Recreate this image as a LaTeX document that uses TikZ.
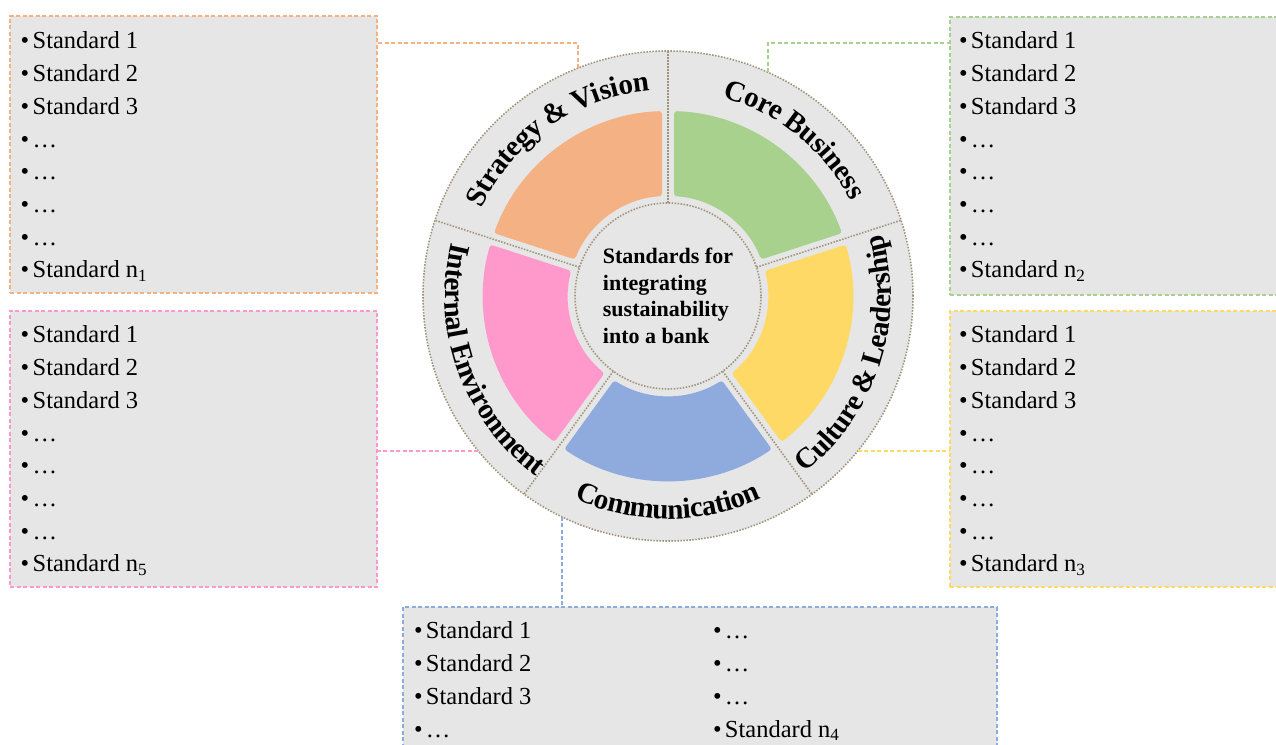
\nonstopmode
\documentclass[tikz,border=0pt]{standalone}
\usepackage{fontspec}
\setmainfont{Liberation Serif}
\usetikzlibrary{calc}
\definecolor{ringgray}{HTML}{E7E6E6}
\definecolor{dotc}{RGB}{158,148,122}
\definecolor{cOrange}{HTML}{F4B183}
\definecolor{cGreen}{HTML}{A9D18E}
\definecolor{cYellow}{HTML}{FFD966}
\definecolor{cBlue}{HTML}{8FAADC}
\definecolor{cPink}{HTML}{FF99CC}
\newcommand\lblsize{28}
\newcommand\lblfont{\bfseries\fontsize{29pt}{31pt}\selectfont}
\newcommand\stdfont{\fontsize{24.5pt}{30pt}\selectfont}
\newcommand\gap{\hspace*{0.25em}}
% #1 name, #2 char/width(em) list, #3 centre angle, #4 baseline radius, #5 direction (1 = clockwise, -1 = counter-clockwise)
\newcommand\arclabel[5]{%
  \xdef\lbltot{0}%
  \foreach \ch/\w in {#2}{\pgfmathsetmacro\lbltmp{\lbltot+\w}\xdef\lbltot{\lbltmp}}%
  \pgfmathsetmacro\lbltmp{-0.5*\lbltot}\xdef\lblcum{\lbltmp}%
  \foreach \ch/\w [count=\k] in {#2}{%
    \pgfmathsetmacro\lblang{#3-(#5)*(\lblcum+0.5*\w)*\lblsize/(#4)*180/pi}%
    \pgfmathsetmacro\lblrot{\lblang-(#5)*90}%
    \node[anchor=base, inner sep=0pt, rotate=\lblrot, font=\lblfont] (#1-\k) at ($(O)+(\lblang:#4pt)$) {\ch};%
    \pgfmathsetmacro\lbltmp{\lblcum+\w}\xdef\lblcum{\lbltmp}%
  }%
}
\begin{document}
\begin{tikzpicture}[x=1pt,y=1pt,
  boxstyle/.style={rectangle, fill=ringgray, line width=1.3pt, dash pattern=on 4pt off 2.5pt, inner sep=0pt},
  conn/.style={line width=1.4pt, dash pattern=on 4pt off 2.5pt},
  dotline/.style={draw=dotc, line width=1.6pt, dash pattern=on 1.5pt off 1.5pt},
  item/.style={anchor=base west, inner sep=0pt, font=\stdfont}]
\useasboundingbox (0,0) rectangle (1276,744);
\clip (0,0) rectangle (1276,744);
\coordinate (O) at (668,448);
% boxes
\node[boxstyle, draw=cOrange, minimum width=367pt, minimum height=277pt] (b1) at (193.5,589.5) {};
\node[boxstyle, draw=cGreen, minimum width=350pt, minimum height=278pt] (b2) at (1125,588) {};
\node[boxstyle, draw=cYellow, minimum width=350pt, minimum height=276pt] (b3) at (1125,295) {};
\node[boxstyle, draw=cPink, minimum width=367pt, minimum height=276pt] (b5) at (193.5,295) {};
\node[boxstyle, draw=cBlue, minimum width=594pt, minimum height=157pt] (b4) at (700,58.5) {};
% wheel
\node[circle, minimum size=490pt, fill=ringgray, dotline, inner sep=0pt] (wheel) at (O) {};
% connectors
\coordinate (h1) at (0,701);
\coordinate (k1) at ($(O)+(111.55:245pt)$);
\coordinate (k2) at ($(O)+(65.9:245pt)$);
\coordinate (k3) at ($(O)+(-39.25:245pt)$);
\coordinate (k5) at ($(O)+(219.25:245pt)$);
\coordinate (k4) at ($(O)+(244.4:245pt)$);
\draw[conn, draw=cOrange] (k1) |- (b1.east |- h1);
\draw[conn, draw=cGreen] (k2) |- (b2.west |- h1);
\draw[conn, draw=cYellow] (k3) -- (b3.west |- k3);
\draw[conn, draw=cPink] (k5) -- (b5.east |- k5);
\draw[conn, draw=cBlue] (k4) -- (b4.north -| k4);
% dividers
\foreach \t in {90,18,-54,-126,162}
  \draw[dotline] ($(O)+(\t:93pt)$) -- ($(O)+(\t:245pt)$);
% coloured segments
\foreach \a/\b/\c in {90/162/cOrange, 18/90/cGreen, -54/18/cYellow, -126/-54/cBlue, 162/234/cPink}
  \fill[\c, rounded corners=3pt] ($(O)+({\a+1.86}:185pt)$) arc[start angle={\a+1.86}, end angle={\b-1.86}, radius=185pt]
     -- ($(O)+({\b-3.44}:100pt)$) arc[start angle={\b-3.44}, end angle={\a+3.44}, radius=100pt] -- cycle;
% hub
\node[circle, minimum size=186pt, fill=ringgray, dotline, inner sep=0pt, align=left,
      font=\bfseries\fontsize{22pt}{26.7pt}\selectfont] (hub) at (O)
      {Standards for\\integrating\\sustainability\\into a bank};
% ring labels
\arclabel{sv}{S/0.556,t/0.333,r/0.444,a/0.5,t/0.333,e/0.444,g/0.5,y/0.5,\gap/0.25,\&/0.833,\gap/0.25,V/0.722,i/0.278,s/0.389,i/0.278,o/0.5,n/0.556}{125}{206}{1}
\arclabel{cb}{C/0.722,o/0.5,r/0.444,e/0.444,\gap/0.25,B/0.667,u/0.556,s/0.389,i/0.278,n/0.556,e/0.444,s/0.389,s/0.389}{51}{206}{1}
\arclabel{cm}{C/0.722,o/0.5,m/0.833,m/0.833,u/0.556,n/0.556,i/0.278,c/0.444,a/0.5,t/0.333,i/0.278,o/0.5,n/0.556}{-90}{223}{-1}
\arclabel{cl}{C/0.722,u/0.556,l/0.278,t/0.333,u/0.556,r/0.444,e/0.444,\gap/0.25,\&/0.833,\gap/0.25,L/0.667,e/0.444,a/0.5,d/0.556,e/0.444,r/0.444,s/0.389,h/0.556,i/0.278,p/0.556}{-18}{223}{-1}
\arclabel{ie}{I/0.389,n/0.556,t/0.333,e/0.444,r/0.444,n/0.556,a/0.5,l/0.278,\gap/0.25,E/0.667,n/0.556,v/0.5,i/0.278,r/0.444,o/0.5,n/0.556,m/0.833,e/0.444,n/0.556,t/0.333}{200}{223}{-1}
% box texts
\foreach \bx/\x/\y/\n in {1/20.5/695/1, 2/958.8/695/2, 3/958.8/401/3, 5/20.5/401/5}{
  \foreach \t [count=\i] in {Standard 1, Standard 2, Standard 3, …, …, …, …, Standard n\textsubscript{\n}}
    \node[item] (t\bx-\i) at (\x, {\y-32.7*(\i-1)}) {•\hspace{3.4pt}\t};
}
\foreach \t [count=\i] in {Standard 1, Standard 2, Standard 3, …}
  \node[item] (t4a-\i) at (413.8, {105-32.7*(\i-1)}) {•\hspace{3.4pt}\t};
\foreach \t [count=\i] in {…, …, …, Standard n\textsubscript{4}}
  \node[item] (t4b-\i) at (712.8, {105-32.7*(\i-1)}) {•\hspace{3.4pt}\t};
\end{tikzpicture}
\end{document}
